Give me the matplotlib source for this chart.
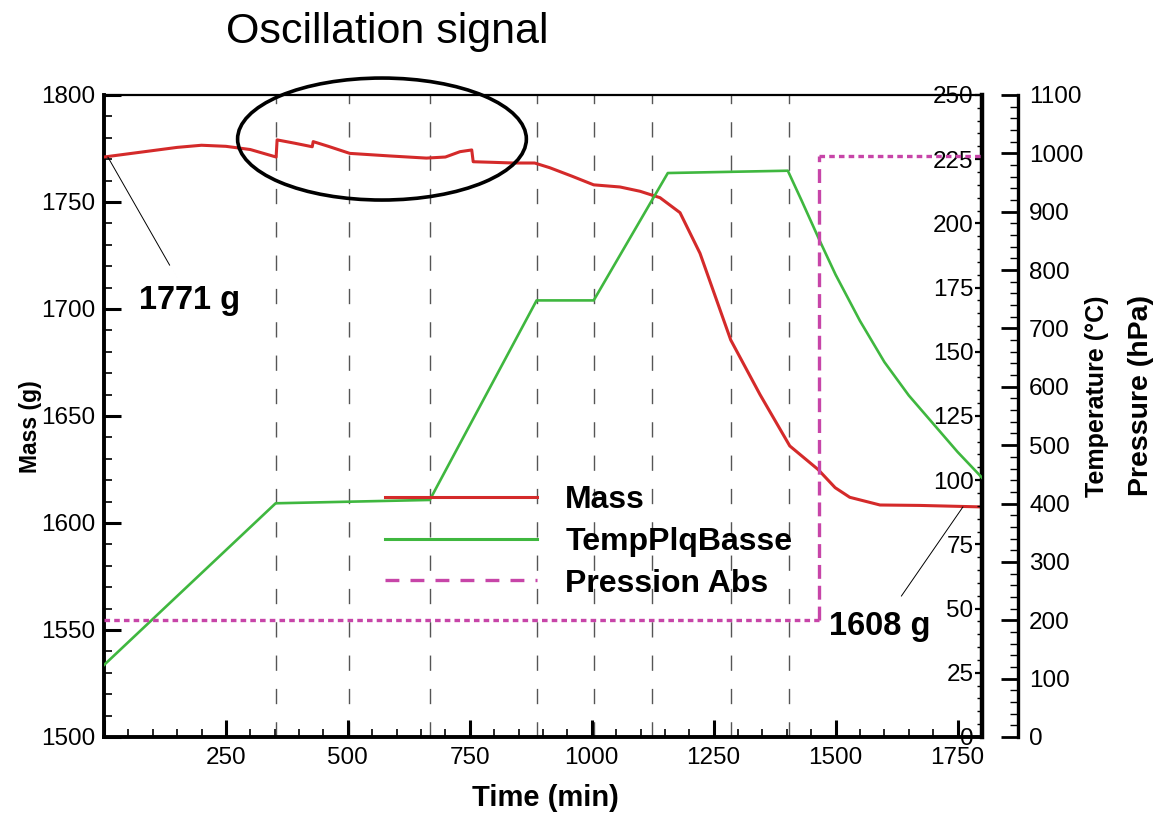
import matplotlib.pyplot as plt
from matplotlib.patches import Ellipse
from matplotlib.lines import Line2D
from matplotlib.ticker import MultipleLocator, FuncFormatter

plt.rcParams['font.family'] = ['Liberation Sans', 'DejaVu Sans']
plt.rcParams['lines.scale_dashes'] = False

# mass record (g) vs time (min)
mass_time = [0, 50, 100, 150, 200, 250, 300, 353, 355, 390, 427, 429, 460, 504,
             586, 661, 700, 730, 754, 757, 800, 839, 883, 914, 960, 1004, 1058,
             1099, 1140, 1181, 1222, 1285, 1345, 1406, 1464, 1499, 1529, 1591,
             1673, 1800]
mass_g = [1771, 1772.5, 1774, 1775.5, 1776.5, 1776, 1774.5, 1771, 1779, 1777.5,
          1775.8, 1778.2, 1776, 1772.7, 1771.5, 1770.5, 1771, 1773.5, 1774.3,
          1768.8, 1768.5, 1768.2, 1768.2, 1766, 1762, 1758, 1757, 1755, 1752,
          1745, 1726, 1685.5, 1660, 1636, 1625, 1616.5, 1612, 1608.4,
          1608.2, 1607.5]

# plate temperature (degC)
temp_time = [0, 352, 668, 887, 1004, 1156, 1402, 1430, 1468, 1500, 1550, 1600,
             1650, 1700, 1750, 1800]
temp_c = [28, 91, 92.3, 170, 170, 219.6, 220.5, 209, 193, 180, 162, 146,
          133, 122, 111, 101]

# absolute pressure (hPa)
pres_time = [0, 1466, 1466, 1800]
pres_hpa = [200, 200, 995, 995]

# vertical markers of the steps
event_times = [352, 502, 668, 887, 1004, 1123, 1285, 1404]

red = '#d42a2a'
green = '#3fb73f'
magenta = '#c745a8'

fig = plt.figure(figsize=(11.64, 8.13), dpi=100)
ax = fig.add_axes([0.0893, 0.0935, 0.7543, 0.7897])
ax_t = ax.twinx()
ax_p = ax.twinx()

# mass axis
ax.plot(mass_time, mass_g, color=red, lw=2.2, zorder=3)
ax.set_xlim(0, 1800)
ax.set_ylim(1500, 1800)
ax.xaxis.set_major_locator(MultipleLocator(250))
ax.xaxis.set_minor_locator(MultipleLocator(50))
ax.xaxis.set_major_formatter(FuncFormatter(lambda v, p: '' if v == 0 else f'{v:.0f}'))
ax.yaxis.set_major_locator(MultipleLocator(50))
ax.yaxis.set_minor_locator(MultipleLocator(10))
ax.tick_params(which='major', direction='in', length=12, width=2.2,
               labelsize=17.5, pad=7, top=False, right=False)
ax.tick_params(which='minor', direction='in', length=6, width=1.2,
               top=False, right=False)
ax.tick_params(axis='y', pad=6)
for side in ['left', 'bottom']:
    ax.spines[side].set_linewidth(2.8)
ax.spines['top'].set_linewidth(1.6)
ax.spines['right'].set_visible(False)

for t in event_times:
    ax.axvline(t, color='#555555', lw=1.0, ls=(0, (11, 13)), zorder=1)

# temperature axis: spine on the right edge, labels inside
ax_t.plot(temp_time, temp_c, color=green, lw=1.9, zorder=3)
ax_t.set_ylim(0, 250)
ax_t.yaxis.set_ticks_position('left')
ax_t.spines['left'].set_position(('axes', 1.0))
ax_t.spines['left'].set_linewidth(3.2)
for side in ['right', 'top', 'bottom']:
    ax_t.spines[side].set_visible(False)
ax_t.yaxis.set_major_locator(MultipleLocator(25))
ax_t.yaxis.set_minor_locator(MultipleLocator(5))
ax_t.tick_params(axis='y', which='major', direction='out', length=5, width=1.6,
                 labelsize=17.5, pad=1)
ax_t.tick_params(axis='y', which='minor', direction='out', length=3.5, width=1.0)

# pressure axis
ax_p.plot(pres_time[:2], pres_hpa[:2], color=magenta, lw=2.4,
          ls=(0, (4, 3)), zorder=3)
ax_p.plot(pres_time[1:3], pres_hpa[1:3], color=magenta, lw=2.4,
          ls=(0, (10, 5)), zorder=3)
ax_p.plot(pres_time[2:], pres_hpa[2:], color=magenta, lw=2.4,
          ls=(0, (4, 3)), zorder=3)
ax_p.set_ylim(0, 1100)
ax_p.spines['right'].set_position(('axes', 1.041))
ax_p.spines['right'].set_linewidth(2.4)
for side in ['left', 'top', 'bottom']:
    ax_p.spines[side].set_visible(False)
ax_p.yaxis.set_major_locator(MultipleLocator(100))
ax_p.yaxis.set_minor_locator(MultipleLocator(20))
ax_p.tick_params(axis='y', which='major', direction='in', length=12, width=2.0,
                 labelsize=17.5, pad=8)
ax_p.tick_params(axis='y', which='minor', direction='in', length=6, width=1.0)

# oscillation highlight
ax.add_patch(Ellipse((570, 1779.4), 592, 57, fill=False, lw=2.6,
                     color='black', clip_on=False, zorder=5))
fig.text(0.3325, 0.961, 'Oscillation signal', fontsize=31,
         ha='center', va='center')

# value callouts
ax.annotate('1771 g', xy=(mass_time[0] + 8, mass_g[0]), xytext=(176, 1704),
            fontsize=23.5, fontweight='bold', ha='center', va='center',
            arrowprops=dict(arrowstyle='-', color='black', lw=0.7,
                            shrinkA=14, shrinkB=0))
ax.annotate('1608 g', xy=(1761, 1607.5), xytext=(1591, 1551.4),
            fontsize=23.5, fontweight='bold', ha='center', va='center',
            arrowprops=dict(arrowstyle='-', color='black', lw=0.7,
                            shrinkA=11, shrinkB=0), annotation_clip=False)

# legend
handles = [Line2D([], [], color=red, lw=2.2),
           Line2D([], [], color=green, lw=2.2),
           Line2D([], [], color=magenta, lw=2.4, ls=(0, (10, 8)))]
leg = ax_p.legend(handles, ['Mass', 'TempPlqBasse', 'Pression Abs'],
                  loc='upper left', bbox_to_anchor=(0.3308, 0.4035),
                  bbox_transform=fig.transFigure, frameon=False,
                  prop={'weight': 'bold', 'size': 23}, handlelength=4.76,
                  handletextpad=0.88, labelspacing=0.37, borderpad=0,
                  borderaxespad=0)

# axis titles
fig.text(0.469, 0.018, 'Time (min)', fontsize=21, fontweight='bold',
         ha='center', va='center')
fig.text(0.026, 0.475, 'Mass (g)', fontsize=16.5, fontweight='bold',
         ha='center', va='center', rotation=90)
fig.text(0.9425, 0.513, 'Temperature (°C)', fontsize=18, fontweight='bold',
         ha='center', va='center', rotation=90)
fig.text(0.98, 0.513, 'Pressure (hPa)', fontsize=20.5, fontweight='bold',
         ha='center', va='center', rotation=90)

fig.savefig('out.png', dpi=100)
